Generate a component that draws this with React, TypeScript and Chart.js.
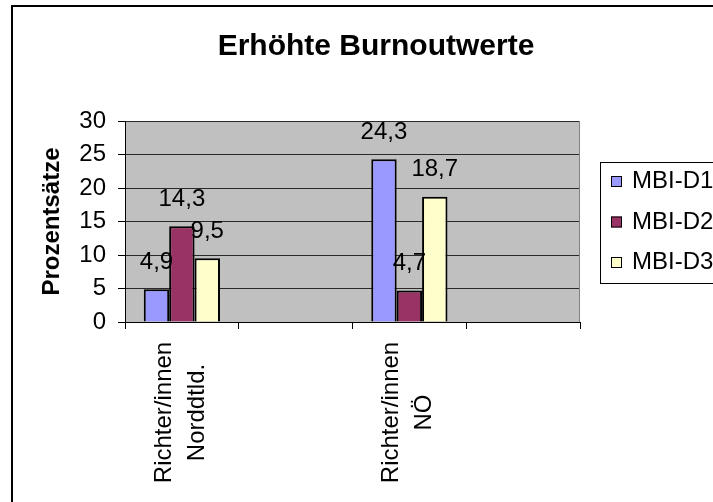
import React, { useEffect, useRef } from 'react';
import { Chart, registerables } from 'chart.js';

Chart.register(...registerables);

// ---- data ----
const TITLE = 'Erhöhte Burnoutwerte';
const Y_TITLE = 'Prozentsätze';
const CATEGORIES: string[][] = [['Richter/innen', 'Norddtld.'], [], ['Richter/innen', 'NÖ'], []];
const SERIES_NAMES = ['MBI-D1', 'MBI-D2', 'MBI-D3'];
const MBI_D1 = [4.9, null, 24.3, null];
const MBI_D2 = [14.3, null, 4.7, null];
const MBI_D3 = [9.5, null, 18.7, null];
const Y_MIN = 0;
const Y_MAX = 30;
const Y_STEP = 5;
const COLORS = ['#9999FF', '#993366', '#FFFFCC'];

const FONT = '"Liberation Sans", Arial, Helvetica, sans-serif';

const fmt = (v: number) => v.toFixed(1).replace('.', ',');

const decorPlugin = {
  id: 'decor',
  beforeDraw(chart: any) {
    const { ctx, chartArea: a } = chart;
    ctx.save();
    ctx.fillStyle = '#ffffff';
    ctx.fillRect(0, 0, chart.width, chart.height);
    ctx.fillStyle = '#C0C0C0';
    ctx.fillRect(a.left, a.top, a.right - a.left, a.bottom - a.top);
    ctx.restore();
  },
  beforeDatasetsDraw(chart: any) {
    const { ctx, chartArea: a } = chart;
    ctx.save();
    ctx.strokeStyle = '#808080';
    ctx.lineWidth = 1;
    ctx.beginPath();
    ctx.moveTo(a.right - 0.5, a.top);
    ctx.lineTo(a.right - 0.5, a.bottom);
    ctx.stroke();
    ctx.restore();
  },
  afterDraw(chart: any) {
    const { ctx } = chart;
    ctx.save();
    // outer frame
    ctx.strokeStyle = '#000';
    ctx.lineWidth = 2;
    ctx.strokeRect(12, 6, 900, 700);

    // title
    ctx.fillStyle = '#000';
    ctx.font = `bold 30px ${FONT}`;
    ctx.textAlign = 'center';
    ctx.textBaseline = 'middle';
    ctx.fillText(TITLE, 376, 47);

    // data labels
    ctx.font = `24px ${FONT}`;
    chart.data.datasets.forEach((ds: any, i: number) => {
      const meta = chart.getDatasetMeta(i);
      meta.data.forEach((bar: any, j: number) => {
        const v = ds.data[j];
        if (v == null) return;
        ctx.fillText(fmt(v), bar.x, bar.y - 27);
      });
    });

    // category labels (rotated, two lines)
    const xs = chart.scales.x;
    CATEGORIES.forEach((lines, i) => {
      const cx = xs.getPixelForValue(i);
      const n = lines.length;
      lines.forEach((t, k) => {
        const lx = cx - 1.5 + (k - (n - 1) / 2) * 33;
        ctx.save();
        ctx.translate(lx, xs.top + 90.5);
        ctx.rotate(-Math.PI / 2);
        ctx.textAlign = 'center';
        ctx.textBaseline = 'middle';
        ctx.fillText(t, 0, 0);
        ctx.restore();
      });
    });

    // legend
    ctx.lineWidth = 1;
    ctx.strokeStyle = '#000';
    ctx.strokeRect(600.5, 162.5, 200, 121);
    ctx.textAlign = 'left';
    ctx.textBaseline = 'middle';
    chart.data.datasets.forEach((ds: any, k: number) => {
      const ry = 181.5 + k * 40.5;
      ctx.fillStyle = ds.backgroundColor;
      ctx.fillRect(611, ry - 5.5, 11, 11);
      ctx.strokeRect(611.5, ry - 5, 10, 10);
      ctx.fillStyle = '#000';
      ctx.fillText(ds.label, 632, ry);
    });
    ctx.restore();
  },
};

export default function App() {
  const ref = useRef<HTMLCanvasElement | null>(null);
  useEffect(() => {
    if (!ref.current) return;
    const series = [MBI_D1, MBI_D2, MBI_D3];
    const chart = new Chart(ref.current, {
      type: 'bar',
      data: {
        labels: CATEGORIES.map((c) => c.join(' ')),
        datasets: series.map((d, i) => ({
          label: SERIES_NAMES[i],
          data: d,
          backgroundColor: COLORS[i],
          borderColor: '#000',
          borderWidth: 2,
          barPercentage: 1,
          categoryPercentage: 0.67,
        })),
      },
      options: {
        animation: false,
        responsive: false,
        devicePixelRatio: 1,
        layout: { padding: { left: 0, top: 121, right: 133, bottom: 0 } },
        plugins: {
          legend: { display: false },
          title: { display: false },
          tooltip: { enabled: false },
        },
        scales: {
          x: {
            grid: {
              offset: true,
              drawOnChartArea: false,
              drawTicks: true,
              tickLength: 7,
              color: '#000',
            },
            border: { display: true, color: '#000', width: 1 },
            ticks: { display: false },
            afterFit: (s: any) => {
              s.height = 180;
            },
          },
          y: {
            min: Y_MIN,
            max: Y_MAX,
            ticks: {
              stepSize: Y_STEP,
              color: '#000',
              font: { family: FONT, size: 24 },
              padding: 12,
            },
            grid: { color: '#2a2a2a', tickColor: '#000', tickLength: 7, lineWidth: 1 },
            border: { display: true, color: '#000', width: 1 },
            title: {
              display: true,
              text: Y_TITLE,
              color: '#000',
              font: { family: FONT, size: 24, weight: 'bold' },
              padding: { top: 38, bottom: 0 },
            },
            afterFit: (s: any) => {
              s.width = 125;
            },
          },
        },
      },
      plugins: [decorPlugin],
    } as any);
    return () => chart.destroy();
  }, []);
  return (
    <div style={{ position: 'fixed', left: 0, top: 0, width: 713, height: 502, overflow: 'hidden', background: '#fff' }}>
      <canvas ref={ref} width={713} height={502} style={{ display: 'block', width: 713, height: 502 }} />
    </div>
  );
}
